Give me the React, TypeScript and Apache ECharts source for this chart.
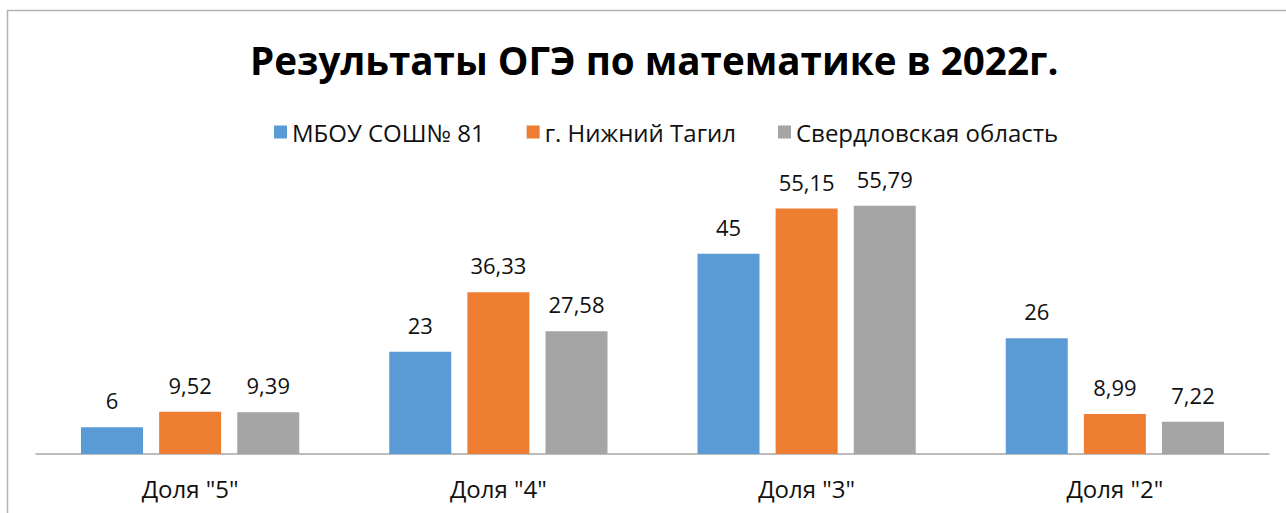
import React, { useEffect, useRef } from "react";
import * as echarts from "echarts";

const categories = ['Доля "5"', 'Доля "4"', 'Доля "3"', 'Доля "2"'];
const seriesNames = ["МБОУ СОШ№ 81", "г. Нижний Тагил", "Свердловская область"];
const school = [6, 23, 45, 26];
const city = [9.52, 36.33, 55.15, 8.99];
const region = [9.39, 27.58, 55.79, 7.22];
const colors = ["#5b9bd5", "#ed7d31", "#a5a5a5"];
const titleText = "Результаты ОГЭ по математике в 2022г.";

const FONT = "'Open Sans', 'Noto Sans', sans-serif";

export default function App() {
  const ref = useRef<HTMLDivElement>(null);
  useEffect(() => {
    if (!ref.current) return;
    const chart = echarts.init(ref.current, null, { renderer: "svg" });
    const fmt = (p: any) => String(p.value).replace(".", ",");
    const mk = (name: string, data: number[], color: string) => ({
      name,
      type: "bar",
      data,
      barWidth: 62,
      barGap: "26%",
      itemStyle: { color },
      label: {
        show: true,
        position: "top",
        distance: 16,
        formatter: fmt,
        fontFamily: FONT,
        fontSize: 22,
        color: "#111",
      },
    });
    chart.setOption({
      animation: false,
      backgroundColor: "#fff",
      textStyle: { fontFamily: FONT },
      title: {
        text: titleText,
        left: 245,
        top: 35,
        textStyle: { fontFamily: FONT, fontWeight: "bold", fontSize: 38.6, color: "#000" },
      },
      legend: {
        data: seriesNames,
        top: 115,
        left: 269,
        itemWidth: 13,
        itemHeight: 13,
        itemGap: 42,
        icon: "rect",
        textStyle: { fontFamily: FONT, fontSize: 24, color: "#111" },
      },
      graphic: [
        {
          type: "rect",
          shape: { x: 7.5, y: 10.5, width: 1300, height: 600 },
          style: { fill: "none", stroke: "#b4b4b4", lineWidth: 1.5 },
          silent: true,
        },
      ],
      grid: { left: 36, right: 17, top: 187, bottom: 59, containLabel: false },
      xAxis: {
        type: "category",
        data: categories,
        axisLine: { show: true, lineStyle: { color: "#a6a6a6", width: 1.5 } },
        axisTick: { show: false },
        axisLabel: { fontFamily: FONT, fontSize: 24, color: "#111", margin: 22 },
      },
      yAxis: {
        type: "value",
        min: 0,
        max: 60,
        show: false,
        splitLine: { show: false },
      },
      series: [
        mk(seriesNames[0], school, colors[0]),
        mk(seriesNames[1], city, colors[1]),
        mk(seriesNames[2], region, colors[2]),
      ],
    });
    return () => chart.dispose();
  }, []);
  return (
    <div
      ref={ref}
      style={{ position: "fixed", left: 0, top: 0, width: 1286, height: 513 }}
    />
  );
}
